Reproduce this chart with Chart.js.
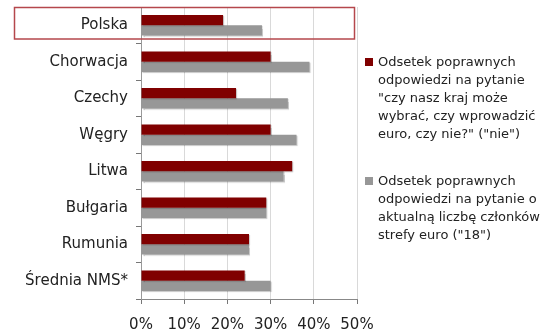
<!DOCTYPE html>
<html lang="pl">
<head>
<meta charset="utf-8">
<script src="https://cdn.jsdelivr.net/npm/chart.js@4"></script>
<style>
  html, body { margin: 0; padding: 0; background: #fff; }
  #wrap { position: relative; width: 550px; height: 331px; }
  #legend {
    position: absolute; left: 365px; top: 53px; width: 185px;
    font-family: "DejaVu Sans", sans-serif; font-size: 13px; line-height: 18px; color: #222;
  }
  .item { position: relative; padding-left: 13px; margin-bottom: 29px; white-space: nowrap; }
  .box { position: absolute; left: 0; top: 5px; width: 8px; height: 8px; }
</style>
</head>
<body>
<div id="wrap">
  <canvas id="chart" width="550" height="331"></canvas>
  <div id="legend"></div>
</div>
<script>
// Kraje (od góry)
let countries = ['Polska', 'Chorwacja', 'Czechy', 'Węgry', 'Litwa', 'Bułgaria', 'Rumunia', 'Średnia NMS*'];

// Odsetek poprawnych odpowiedzi (%)
let answerNie = [19, 30, 22, 30, 35, 29, 25, 24];
let answer18 = [28, 39, 34, 36, 33, 29, 25, 30];

let xTicks = [0, 10, 20, 30, 40, 50];

let labelNie = ['Odsetek poprawnych', 'odpowiedzi na pytanie', '"czy nasz kraj może', 'wybrać, czy wprowadzić', 'euro, czy nie?" ("nie")'];
let label18 = ['Odsetek poprawnych', 'odpowiedzi na pytanie o', 'aktualną liczbę członków', 'strefy euro ("18")'];

let colorNie = '#800000';
let color18 = '#979797';

// Ramka wokół wiersza "Polska"
let highlightRow = {
    id: 'highlightRow',
    afterDraw(chart) {
        let y = chart.scales.y;
        let half = (y.getPixelForValue(1) - y.getPixelForValue(0)) / 2;
        let cy = y.getPixelForValue(0);
        let ctx = chart.ctx;
        ctx.save();
        ctx.strokeStyle = '#b5474c';
        ctx.lineWidth = 1.5;
        ctx.strokeRect(14.5, cy - half + 0.5, 340, half * 2 - 5);
        ctx.restore();
    }
};

// Lekki cień pod słupkami
let barShadow = {
    id: 'barShadow',
    beforeDatasetsDraw(chart) {
        let ctx = chart.ctx;
        ctx.save();
        ctx.shadowColor = 'rgba(0,0,0,0.22)';
        ctx.shadowOffsetX = 1;
        ctx.shadowOffsetY = 1;
        ctx.shadowBlur = 1;
    },
    afterDatasetsDraw(chart) {
        chart.ctx.restore();
    }
};

let chart = new Chart(document.getElementById('chart').getContext('2d'), {
    type: 'bar',
    data: {
        labels: countries,
        datasets: [{
            label: labelNie,
            data: answerNie,
            backgroundColor: colorNie,
            barPercentage: 1,
            categoryPercentage: 0.565
        }, {
            label: label18,
            data: answer18,
            backgroundColor: color18,
            barPercentage: 1,
            categoryPercentage: 0.565
        }]
    },
    options: {
        indexAxis: 'y',
        responsive: false,
        animation: false,
        layout: { padding: { top: 7, right: 193, left: 0, bottom: 0 } },
        plugins: {
            legend: { display: false },
            tooltip: { enabled: false }
        },
        scales: {
            x: {
                min: 0,
                max: 50,
                afterBuildTicks: (scale) => { scale.ticks = xTicks.map(v => ({ value: v })); },
                afterFit: (scale) => { scale.height = 32; },
                grid: { color: '#d9d9d9', tickColor: '#777', tickLength: 5 },
                border: { color: '#888' },
                ticks: {
                    padding: 12,
                    color: '#222',
                    font: { family: 'DejaVu Sans', size: 15 },
                    callback: (v) => v + '%'
                }
            },
            y: {
                afterFit: (scale) => {
                    scale.width = 141;
                    scale.paddingTop = 0;
                    scale.paddingBottom = 0;
                },
                grid: { drawOnChartArea: false, offset: true, tickColor: '#777', tickLength: 5 },
                border: { color: '#999' },
                ticks: {
                    padding: 8,
                    color: '#222',
                    font: { family: 'DejaVu Sans', size: 15 }
                }
            }
        }
    },
    plugins: [barShadow, highlightRow]
});

// Legenda po prawej stronie
let legend = document.getElementById('legend');
chart.data.datasets.forEach(ds => {
    let item = document.createElement('div');
    item.className = 'item';
    let box = document.createElement('span');
    box.className = 'box';
    box.style.background = ds.backgroundColor;
    item.appendChild(box);
    ds.label.forEach((line, i) => {
        if (i > 0) item.appendChild(document.createElement('br'));
        item.appendChild(document.createTextNode(line));
    });
    legend.appendChild(item);
});
</script>
</body>
</html>
